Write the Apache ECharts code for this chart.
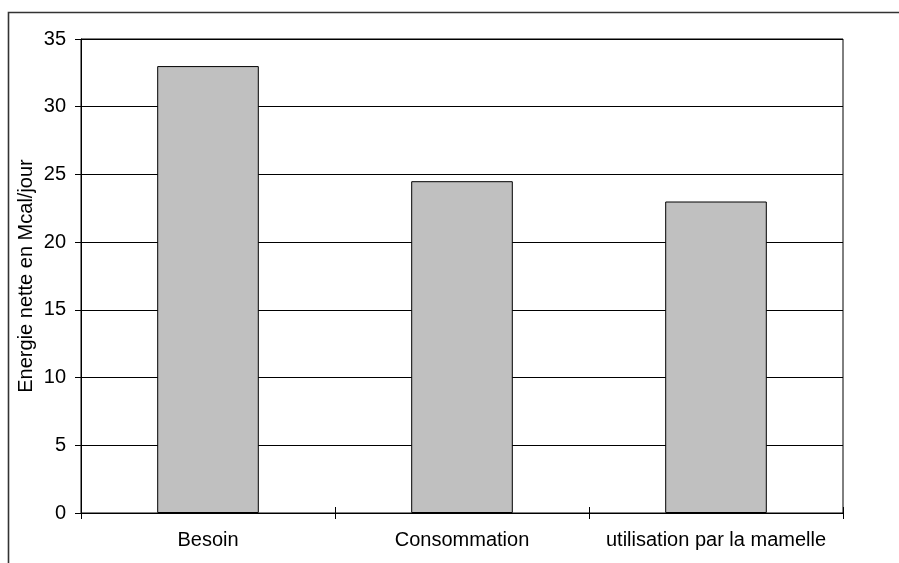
<!DOCTYPE html>
<html>
<head>
<meta charset="utf-8">
<script src="https://cdn.jsdelivr.net/npm/echarts@6/dist/echarts.min.js"></script>
<style>
html,body{margin:0;padding:0;background:#fff;}
#chart{width:899px;height:563px;}
</style>
</head>
<body>
<div id="chart"></div>
<script>
const categories = ['Besoin', 'Consommation', 'utilisation par la mamelle'];
const values = [33, 24.5, 23];
const yAxisTitle = 'Energie nette en Mcal/jour';

const chart = echarts.init(document.getElementById('chart'), null, {renderer: 'canvas'});
const font = 'Liberation Sans, Arial, sans-serif';
const gridBox = {left: 81, top: 39, right: 56, bottom: 50};
chart.setOption({
  animation: false,
  backgroundColor: '#fff',
  grid: [
    Object.assign({show: true, borderColor: '#000', borderWidth: 1, backgroundColor: 'transparent'}, gridBox),
    Object.assign({show: false}, gridBox)
  ],
  graphic: [{
    type: 'rect', silent: true, z: 100,
    shape: {x: 8.5, y: 12.5, width: 1200, height: 1200},
    style: {fill: 'none', stroke: '#333', lineWidth: 1.6}
  }],
  xAxis: [{
    type: 'category', data: categories, position: 'bottom', gridIndex: 0,
    axisLine: {lineStyle: {color: '#000', width: 1}},
    axisTick: {show: true, length: 6, lineStyle: {color: '#000'}},
    axisLabel: {color: '#000', fontFamily: font, fontSize: 20, margin: 17, interval: 0}
  }, {
    type: 'category', data: categories, position: 'bottom', gridIndex: 1, z: 10,
    axisLine: {show: false},
    axisTick: {show: true, inside: true, length: 6, lineStyle: {color: '#000', width: 1}},
    axisLabel: {show: false}
  }],
  yAxis: [{
    type: 'value', min: 0, max: 35, interval: 5, gridIndex: 0,
    name: yAxisTitle, nameLocation: 'middle', nameGap: 45, nameRotate: 90, nameMoveOverlap: false,
    nameTextStyle: {color: '#000', fontFamily: font, fontSize: 20},
    axisLine: {show: true, lineStyle: {color: '#000', width: 1}},
    axisTick: {show: true, length: 6, lineStyle: {color: '#000'}},
    axisLabel: {color: '#000', fontFamily: font, fontSize: 20, margin: 15},
    splitLine: {show: true, lineStyle: {color: '#000', width: 1}}
  }, {
    type: 'value', min: 0, max: 35, interval: 5, gridIndex: 1, show: false
  }],
  series: [{
    type: 'bar', data: values, xAxisIndex: 0, yAxisIndex: 0, barWidth: '40%',
    itemStyle: {color: '#c0c0c0', borderColor: '#000', borderWidth: 1}
  }]
});
</script>
</body>
</html>
